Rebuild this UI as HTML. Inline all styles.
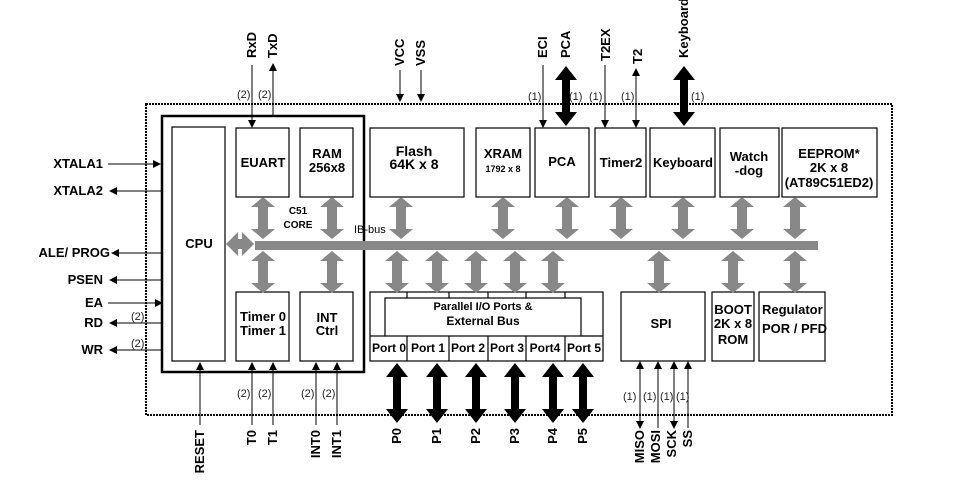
<!DOCTYPE html>
<html><head><meta charset="utf-8"><style>
html,body{margin:0;padding:0;background:#fff;}
svg{display:block;font-family:"Liberation Sans",Arial,sans-serif;}
.b{font-weight:bold;font-size:13px;}
.s{font-size:11px;}
</style></head><body>
<svg width="954" height="483" viewBox="0 0 954 483" xmlns="http://www.w3.org/2000/svg">
<defs>
<polygon id="ga" points="0,0 12,10 5,10 5,32 12,32 0,42 -12,32 -5,32 -5,10 -12,10" fill="#888"/>
<polygon id="ba" points="0,0 11,14 4,14 4,46 11,46 0,60 -11,46 -4,46 -4,14 -11,14" fill="#000"/>
<marker id="ah" markerWidth="8" markerHeight="10" refX="7" refY="5" orient="auto" markerUnits="userSpaceOnUse"><path d="M0,1 L8,5 L0,9 z" fill="#000"/></marker>
</defs>
<rect width="954" height="483" fill="#fff"/>
<rect x="146" y="104" width="746" height="311" fill="none" stroke="#000" stroke-width="2" stroke-dasharray="2,1"/>
<rect x="162" y="116" width="202" height="256" fill="none" stroke="#000" stroke-width="2.5"/>
<g fill="#fff" stroke="#000" stroke-width="1.2">
<rect x="172" y="127" width="53" height="234"/>
<rect x="236" y="128" width="53" height="69"/>
<rect x="300" y="128" width="53" height="69"/>
<rect x="236" y="292" width="53" height="69"/>
<rect x="300" y="292" width="53" height="69"/>
<rect x="370" y="128" width="94" height="69"/>
<rect x="476" y="128" width="54" height="69"/>
<rect x="535" y="128" width="54" height="69"/>
<rect x="595" y="128" width="51" height="69"/>
<rect x="650" y="128" width="65" height="69"/>
<rect x="720" y="128" width="59" height="69"/>
<rect x="782" y="128" width="95" height="69"/>
<rect x="370" y="292" width="233" height="69"/>
<rect x="385" y="298" width="196" height="38"/>
<rect x="621" y="292" width="84" height="69"/>
<rect x="712" y="292" width="42" height="69"/>
<rect x="759" y="292" width="66" height="69"/>
</g>
<g stroke="#000" stroke-width="1.2">
<line x1="370" y1="336" x2="385" y2="336"/><line x1="581" y1="336" x2="603" y2="336"/>
<line x1="407" y1="336" x2="407" y2="361"/><line x1="449" y1="336" x2="449" y2="361"/>
<line x1="488" y1="336" x2="488" y2="361"/><line x1="526" y1="336" x2="526" y2="361"/>
<line x1="565" y1="336" x2="565" y2="361"/>
<line x1="407" y1="292" x2="407" y2="298"/><line x1="449" y1="292" x2="449" y2="298"/>
<line x1="488" y1="292" x2="488" y2="298"/><line x1="526" y1="292" x2="526" y2="298"/>
<line x1="565" y1="292" x2="565" y2="298"/>
</g>
<rect x="255" y="241" width="563" height="9" fill="#888"/>
<polygon points="226,244 238,232 238,239 242,239 242,232 254,244 242,256 242,249 238,249 238,256" fill="#888"/>
<g>
<use href="#ga" x="263" y="197"/><use href="#ga" x="332" y="197"/><use href="#ga" x="401" y="197"/>
<use href="#ga" x="503" y="197"/><use href="#ga" x="567" y="197"/><use href="#ga" x="621" y="197"/>
<use href="#ga" x="683" y="197"/><use href="#ga" x="742" y="197"/><use href="#ga" x="795" y="197"/>
<use href="#ga" x="263" y="251"/><use href="#ga" x="332" y="251"/><use href="#ga" x="397" y="251"/>
<use href="#ga" x="437" y="251"/><use href="#ga" x="476" y="251"/><use href="#ga" x="515" y="251"/>
<use href="#ga" x="553" y="251"/><use href="#ga" x="659" y="251"/><use href="#ga" x="733" y="251"/>
<use href="#ga" x="795" y="251"/>
</g>
<use href="#ba" x="397" y="363"/><use href="#ba" x="437" y="363"/><use href="#ba" x="476" y="363"/>
<use href="#ba" x="515" y="363"/><use href="#ba" x="553" y="363"/><use href="#ba" x="583" y="363"/>
<use href="#ba" x="566" y="66"/><use href="#ba" x="684" y="66"/>
<g stroke="#000" stroke-width="1" fill="none" marker-end="url(#ah)">
<line x1="252" y1="65" x2="252" y2="127"/>
<line x1="273" y1="116" x2="273" y2="64"/>
<line x1="400" y1="70" x2="400" y2="101"/>
<line x1="421" y1="70" x2="421" y2="101"/>
<line x1="543" y1="65" x2="543" y2="127"/>
<line x1="605" y1="65" x2="605" y2="127"/>
<line x1="636" y1="90" x2="636" y2="127"/>
<line x1="636" y1="90" x2="636" y2="69"/>
<line x1="108" y1="164" x2="160" y2="164"/>
<line x1="162" y1="191" x2="110" y2="191"/>
<line x1="162" y1="253" x2="112" y2="253"/>
<line x1="162" y1="280" x2="110" y2="280"/>
<line x1="108" y1="303" x2="162" y2="303"/>
<line x1="162" y1="323" x2="110" y2="323"/>
<line x1="162" y1="350" x2="110" y2="350"/>
<line x1="200" y1="425" x2="200" y2="363"/>
<line x1="252" y1="425" x2="252" y2="363"/>
<line x1="273" y1="425" x2="273" y2="363"/>
<line x1="316" y1="425" x2="316" y2="363"/>
<line x1="337" y1="425" x2="337" y2="363"/>
<line x1="640" y1="400" x2="640" y2="362"/>
<line x1="640" y1="400" x2="640" y2="428"/>
<line x1="658" y1="428" x2="658" y2="362"/>
<line x1="674" y1="400" x2="674" y2="362"/>
<line x1="674" y1="400" x2="674" y2="428"/>
<line x1="688" y1="428" x2="688" y2="362"/>
</g>
<g class="b" text-anchor="middle">
<text x="199" y="248">CPU</text>
<text x="263" y="167">EUART</text>
<text x="327" y="158">RAM</text><text x="327" y="172">256x8</text>
<text x="414" y="156" font-size="14">Flash</text><text x="414" y="169" font-size="14">64K x 8</text>
<text x="503" y="158">XRAM</text><text x="503" y="172" font-size="9">1792 x 8</text>
<text x="562" y="166">PCA</text>
<text x="621" y="167">Timer2</text>
<text x="683" y="167">Keyboard</text>
<text x="749" y="161">Watch</text><text x="749" y="175">-dog</text>
<text x="829" y="158">EEPROM*</text><text x="829" y="172">2K x 8</text><text x="829" y="187">(AT89C51ED2)</text>
<text x="263" y="321">Timer 0</text><text x="263" y="335">Timer 1</text>
<text x="327" y="322">INT</text><text x="327" y="335">Ctrl</text>
<text x="298" y="214" font-size="10">C51</text><text x="298" y="228" font-size="10">CORE</text>
<text x="483" y="310" font-size="11">Parallel I/O Ports &amp;</text>
<text x="483" y="325" font-size="12">External Bus</text>
<g font-size="12">
<text x="389" y="352">Port 0</text><text x="428" y="352">Port 1</text><text x="468" y="352">Port 2</text>
<text x="507" y="352">Port 3</text><text x="545" y="352">Port4</text><text x="584" y="352">Port 5</text>
</g>
<text x="661" y="328">SPI</text>
<text x="733" y="314">BOOT</text><text x="733" y="328">2K x 8</text><text x="733" y="344">ROM</text>
</g>
<g class="b"><text x="762" y="314">Regulator</text><text x="762" y="333">POR / PFD</text></g>
<text x="354" y="233" class="s">IB-bus</text>
<g class="b" text-anchor="end">
<text x="103" y="168">XTALA1</text><text x="103" y="195">XTALA2</text>
<text x="110" y="257">ALE/ PROG</text><text x="103" y="284">PSEN</text>
<text x="103" y="307">EA</text><text x="103" y="327">RD</text><text x="103" y="354">WR</text>
</g>
<g class="s" fill="#222">
<text x="237" y="98">(2)</text><text x="258" y="98">(2)</text>
<text x="131" y="320">(2)</text><text x="131" y="347">(2)</text>
<text x="237" y="397">(2)</text><text x="258" y="397">(2)</text>
<text x="301" y="397">(2)</text><text x="322" y="397">(2)</text>
<text x="528" y="100">(1)</text><text x="569" y="100">(1)</text><text x="589" y="100">(1)</text>
<text x="621" y="100">(1)</text><text x="691" y="100">(1)</text>
<text x="623" y="400">(1)</text><text x="643" y="400">(1)</text><text x="660" y="400">(1)</text><text x="676" y="400">(1)</text>
</g>
<g class="b">
<text transform="translate(256,58) rotate(-90)">RxD</text>
<text transform="translate(277,58) rotate(-90)">TxD</text>
<text transform="translate(404,66) rotate(-90)">VCC</text>
<text transform="translate(425,66) rotate(-90)">VSS</text>
<text transform="translate(547,58) rotate(-90)">ECI</text>
<text transform="translate(570,58) rotate(-90)">PCA</text>
<text transform="translate(610,61) rotate(-90)">T2EX</text>
<text transform="translate(642,64) rotate(-90)">T2</text>
<text transform="translate(688,58) rotate(-90)">Keyboard</text>
</g>
<g class="b" text-anchor="end">
<text transform="translate(204,430) rotate(-90)">RESET</text>
<text transform="translate(256,430) rotate(-90)">T0</text>
<text transform="translate(277,430) rotate(-90)">T1</text>
<text transform="translate(320,430) rotate(-90)">INT0</text>
<text transform="translate(341,430) rotate(-90)">INT1</text>
<text transform="translate(401,428) rotate(-90)">P0</text>
<text transform="translate(441,428) rotate(-90)">P1</text>
<text transform="translate(480,428) rotate(-90)">P2</text>
<text transform="translate(519,428) rotate(-90)">P3</text>
<text transform="translate(557,428) rotate(-90)">P4</text>
<text transform="translate(587,428) rotate(-90)">P5</text>
<text transform="translate(644,430) rotate(-90)">MISO</text>
<text transform="translate(660,430) rotate(-90)">MOSI</text>
<text transform="translate(676,430) rotate(-90)">SCK</text>
<text transform="translate(692,430) rotate(-90)">SS</text>
</g>
</svg>
</body></html>
